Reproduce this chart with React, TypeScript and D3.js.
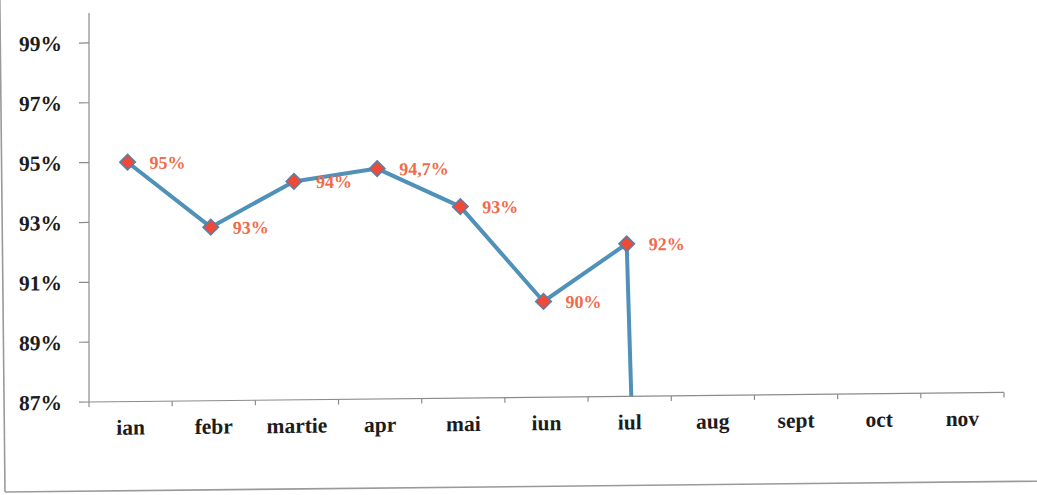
import React from "react";
import * as d3 from "d3";

// Monthly rate (%), Romanian month abbreviations
const months = ["ian", "febr", "martie", "apr", "mai", "iun", "iul", "aug", "sept", "oct", "nov"];
const rates = [95.0, 92.8, 94.3, 94.7, 93.4, 90.2, 92.1, 0];
// decimals shown in each point's label
const labelDecimals = [0, 0, 0, 1, 0, 0, 0];
const yTicks = [87, 89, 91, 93, 95, 97, 99];

const W = 1037;
const H = 495;
const plot = { left: 89, right: 1004, top: 13, bottom: 402 };
const seriesShift = -3;

const serif = "'Liberation Serif', 'Times New Roman', serif";

function fmtPct(v: number, dec: number) {
  return v.toFixed(dec).replace(".", ",") + "%";
}

export default function App() {
  const x = d3.scaleBand<string>().domain(months).range([plot.left, plot.right]).padding(0);
  const y = d3.scaleLinear().domain([87, 100]).range([plot.bottom, plot.top]);

  const cx = (i: number) => (x(months[i]) as number) + x.bandwidth() / 2 + seriesShift;

  const pts = rates.map((v, i) => [cx(i), y(v)] as [number, number]);
  const line = d3.line<[number, number]>()(pts) as string;
  const diamond = d3.symbol(d3.symbolSquare, 120)() as string;

  const tickEdges = d3.range(months.length + 1).map((i) => plot.left + i * x.bandwidth());

  return (
    <div style={{ position: "absolute", left: 0, top: 0, width: W, height: H, overflow: "hidden", background: "#fff" }}>
      <svg width={W} height={H} style={{ display: "block", overflow: "hidden" }}>
        <defs>
          <clipPath id="plotArea">
            <rect x={plot.left} y={plot.top - 10} width={plot.right - plot.left} height={plot.bottom - plot.top + 10} />
          </clipPath>
        </defs>

        {/* frame: left and bottom edges */}
        <g transform="rotate(-0.6, 5, 492)" stroke="#9a9a9a" strokeWidth={1.6}>
          <line x1={5} x2={5} y1={-20} y2={492} />
          <line x1={5} x2={1045} y1={492} y2={492} />
        </g>

        <g transform={`translate(${plot.left},0) skewY(-0.6) translate(${-plot.left},0)`}>
          {/* y axis */}
          <line x1={plot.left} x2={plot.left} y1={plot.top} y2={plot.bottom} stroke="#8c8c8c" strokeWidth={1.2} />
          {yTicks.map((t) => (
            <g key={t}>
              <line x1={plot.left - 10} x2={plot.left} y1={y(t)} y2={y(t)} stroke="#8c8c8c" strokeWidth={1.2} />
              <text x={62} y={y(t)} dy="0.35em" textAnchor="end" fontFamily={serif} fontWeight="bold" fontSize={21.5} fill="#1c1c1c">
                {t}%
              </text>
            </g>
          ))}

          {/* x axis */}
          <line x1={plot.left} x2={plot.right} y1={plot.bottom} y2={plot.bottom} stroke="#8c8c8c" strokeWidth={1.2} />
          {tickEdges.map((tx, i) => (
            <line key={i} x1={tx} x2={tx} y1={plot.bottom} y2={plot.bottom + 5} stroke="#8c8c8c" strokeWidth={1.2} />
          ))}
          {months.map((m) => (
            <text
              key={m}
              x={(x(m) as number) + x.bandwidth() / 2}
              y={435}
              textAnchor="middle"
              fontFamily={serif}
              fontWeight="bold"
              fontSize={21.5}
              fill="#1c1c1c"
            >
              {m}
            </text>
          ))}

          {/* series */}
          <path d={line} fill="none" stroke="#4f91b9" strokeWidth={4} strokeLinejoin="round" clipPath="url(#plotArea)" />
          {pts.slice(0, labelDecimals.length).map(([px, py], i) => (
            <g key={i}>
              <path d={diamond} transform={`translate(${px},${py}) rotate(45)`} fill="#f04a36" stroke="#5c7ea8" strokeWidth={1.6} />
              <text x={px + 22} y={py} dy="0.38em" fontFamily={serif} fontWeight="bold" fontSize={18} fill="#f26a4c">
                {fmtPct(rates[i], labelDecimals[i])}
              </text>
            </g>
          ))}
        </g>
      </svg>
    </div>
  );
}
